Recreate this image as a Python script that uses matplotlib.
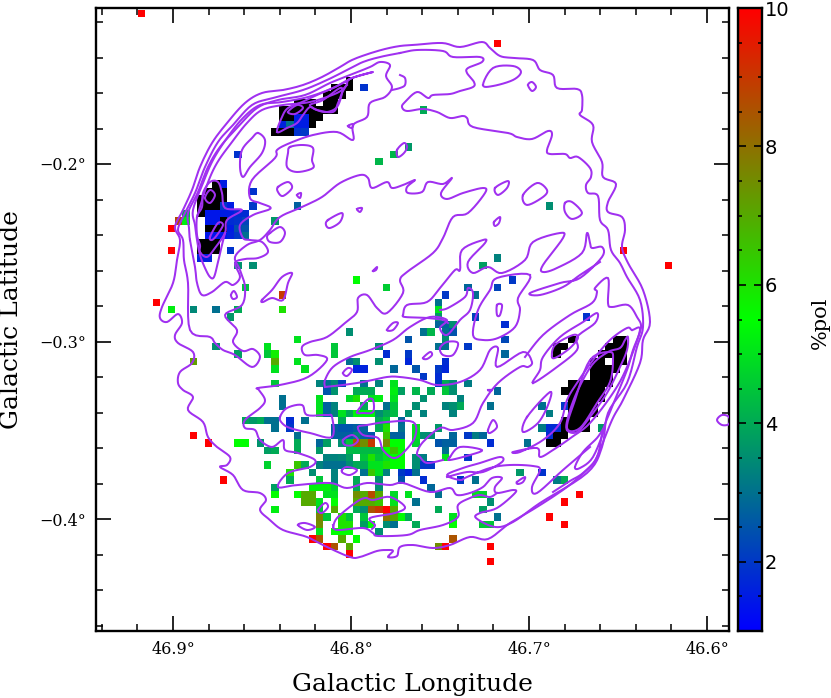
import numpy as np
import matplotlib
matplotlib.use("Agg")
import matplotlib.pyplot as plt
from matplotlib.colors import LinearSegmentedColormap, Normalize
from matplotlib.ticker import FuncFormatter, MultipleLocator

# ---- polarisation map cells: (column, row, %pol); pol below 1 is drawn black
nw_cells = [(0,-34,.5),(0,-33,.5),(-2,-33,.5),(-1,-33,.5),(2,-33,1.9),(-3,-32,.5),(-2,-32,.5),(-1,-32,.5),
 (-7,-31,.5),(-6,-31,.5),(-5,-31,.5),(-3,-31,.5),(-2,-31,.5),
 (-9,-30,.5),(-8,-30,.5),(-7,-30,.5),(-6,-30,.5),(-5,-30,.5),(-4,-30,.5),(-3,-30,.5),(-2,-30,.5),
 (-9,-29,.5),(-8,-29,.5),(-7,-29,1.5),(-6,-29,1.5),(-5,-29,.5),(-4,-29,.5),
 (-9,-28,1.6),(-8,-28,3.0),(-7,-28,1.5),(-6,-28,1.5),(-5,-28,.5),
 (-10,-27,.5),(-9,-27,.5),(-8,-27,.5),(-7,-27,1.9),(-6,-27,2.0),
 (-15,-24,1.9),(-13,-19,1.9),(-13,-17,2.0),(-7,-17,2.7),(-10,-15,3.7),(4,-23,4.2),(6,-24,4.2),(8,-25,3.7),
 (10,-30,4.0),(-16,-11,1.9),(-15,-9,3.6),(-13,-9,3.5)]
left_blob_cells = [(-18,-20,.5),(-17,-20,1.5),(-19,-19,.5),(-18,-19,.5),(-17,-19,.5),
 (-20,-18,.5),(-19,-18,.5),(-18,-18,.5),(-17,-18,.5),(-20,-17,.5),(-19,-17,.5),(-18,-17,.5),(-17,-17,2.0),(-16,-17,1.5),
 (-20,-16,.5),(-19,-16,1.4),(-18,-16,1.4),(-17,-16,1.5),(-16,-16,1.5),(-15,-16,1.8),(-14,-16,1.8),(-22,-16,4.2),
 (-19,-15,1.4),(-18,-15,1.4),(-17,-15,.5),(-16,-15,1.8),(-15,-15,1.9),(-14,-15,2.2),(-22,-15,5.2),(-23,-15,8.7),
 (-19,-14,.5),(-18,-14,.5),(-17,-14,.5),(-16,-14,1.5),(-15,-14,2.4),(-14,-14,2.5),(-24,-14,10),
 (-19,-13,1.4),(-18,-13,1.4),(-17,-13,1.4),(-16,-13,1.6),(-15,-13,2.0),(-14,-13,3.0),
 (-20,-12,.5),(-19,-12,.5),(-18,-12,.5),(-20,-11,.5),(-19,-11,.5),(-18,-11,.5),(-24,-11,10),
 (-20,-10,1.6),(-19,-10,1.6),(-24,-3,5.2),(-21,-3,3.4),(-26,-4,10),(-18,-3,3.0),(-16,-2,3.3),(-18,2,3.5),(-15,3,3.3),
 (-21,4,7.2),(-21,14,10),(-19,15,10),(-17,20,10),(-28,-43,10)]
dense_cells_a = [(1,-7,5.5),(-14,-6,4.4),(5,-6,4.6),(16,-6,2.8),(-9,-5,9.0),(13,-5,2.0),(17,-5,3.0),(12,-4,3.0),
 (-9,-3,6.0),(-15,-3,4.0),(12,-3,5.0),(-16,-2,3.7),(12,-2,3.7),(17,-2,2.2),(12,-1,2.8),(13,-1,2.8),(14,-1,3.5),
 (0,0,3.5),(10,0,3.0),(11,0,4.2),(13,0,3.0),(14,0,2.5),(-7,1,5.0),(8,1,2.5),(13,1,3.5),
 (-11,2,5.0),(-2,2,4.5),(4,2,3.5),(12,2,3.0),(13,2,3.0),(16,2,2.0),
 (-11,3,4.5),(-10,3,5.8),(-2,3,4.5),(5,3,1.8),(8,3,2.0),(-15,3,3.8),
 (-10,4,7.0),(-7,4,5.0),(0,4,3.0),(1,4,3.5),(4,4,3.5),(8,4,1.7),(13,4,1.8),
 (-10,5,5.0),(-6,5,5.0),(1,5,1.6),(2,5,1.6),(6,5,2.8),(9,5,2.5),(12,5,2.0),(13,5,1.7),(10,6,2.0),(12,6,1.8),
 (-10,7,4.5),(-4,7,3.3),(-3,7,3.0),(-2,7,3.4),(-1,7,2.2),(2,7,3.0),(4,7,3.3),(6,7,5.0),(12,7,2.0),(13,7,4.0),(14,7,3.5),(16,7,3.2),
 (-3,8,2.5),(-2,8,3.6),(1,8,4.0),(2,8,4.0),(3,8,4.0),(6,8,5.2),(7,8,3.8),(9,8,4.2),(11,8,4.0),(13,8,4.5),(14,8,3.5),
 (-9,9,3.0),(-4,9,5.0),(0,9,4.8),(1,9,6.0),(3,9,5.0),(4,9,5.2),(6,9,5.0),(10,9,3.5),(15,9,3.3),
 (-9,10,3.0),(-4,10,5.0),(-3,10,2.7),(-2,10,3.3),(2,10,4.0),(5,10,3.0),(6,10,4.5),(9,10,3.5),(13,10,3.3),(14,10,3.5),(15,10,4.0),
 (-4,11,5.0),(-3,11,2.8),(-2,11,3.3),(-1,11,5.0),(0,11,4.0),(1,11,5.3),(2,11,5.3),(3,11,5.3),(4,11,3.5),(5,11,4.0),(6,11,4.3),(8,11,3.6),(10,11,3.3),(14,11,3.3),
 (-14,12,4.0),(-13,12,3.7),(-12,12,4.0),(-11,12,3.0),(-10,12,3.0),(-8,12,1.8),(-6,12,3.0),(-1,12,4.0),(4,12,4.0),(5,12,4.5),(7,12,2.8),
 (-10,13,3.0),(-8,13,2.0),(-2,13,2.7),(-1,13,2.5),(0,13,2.5),(1,13,2.7),(2,13,2.8),(4,13,4.0),(5,13,6.0),(7,13,3.0),(9,13,5.0),(12,13,3.7)]
dense_cells_b = [(-7,14,3.0),(-2,14,2.7),(-1,14,2.7),(0,14,2.7),(1,14,3.3),(2,14,2.7),(3,14,2.5),(5,14,6.5),(6,14,2.7),(7,14,2.7),(9,14,5.0),(10,14,3.5),(11,14,3.5),(14,14,2.8),(16,14,2.0),(17,14,3.2),(18,14,3.0),
 (-15,15,5.5),(-14,15,5.5),(-12,15,3.6),(-7,15,4.0),(-4,15,2.8),(-3,15,3.8),(-1,15,3.5),(0,15,4.5),(1,15,8.5),(2,15,7.5),(3,15,9.0),(5,15,7.5),(6,15,5.5),(7,15,5.5),(9,15,4.7),(12,15,2.5),(13,15,2.7),(14,15,2.7),(19,15,1.8),
 (-11,16,3.8),(-10,16,4.0),(-7,16,4.0),(-4,16,3.7),(0,16,4.3),(1,16,4.3),(2,16,4.3),(3,16,4.3),(4,16,4.3),(5,16,5.5),(6,16,6.5),(7,16,5.5),(13,16,3.0),
 (-3,17,3.3),(-2,17,3.3),(-1,17,3.4),(0,17,3.8),(2,17,4.5),(3,17,6.0),(4,17,4.5),(5,17,5.0),(6,17,5.5),(7,17,5.5),(9,17,3.5),(10,17,3.2),(13,17,5.0),(16,17,2.0),
 (-11,18,4.7),(-7,18,6.5),(-6,18,4.0),(-4,18,3.3),(-3,18,3.0),(-2,18,3.0),(-1,18,3.0),(0,18,3.5),(1,18,4.0),(2,18,4.0),(3,18,5.0),(4,18,5.0),(5,18,6.0),(6,18,5.5),(7,18,5.5),(9,18,3.5),(10,18,2.0),(11,18,2.0),
 (-8,19,6.0),(-5,19,3.5),(-2,19,3.3),(2,19,3.0),(3,19,6.5),(4,19,5.0),(5,19,3.3),(7,19,2.0),(8,19,1.7),(9,19,3.0),
 (-8,20,4.0),(-4,20,4.5),(-2,20,3.3),(1,20,4.0),(4,20,3.5),(7,20,2.5),(10,20,1.8),(15,20,2.0),(17,20,3.0),
 (-10,21,3.8),(-5,21,5.3),(-4,21,5.3),(-3,21,5.3),(-2,21,4.7),(1,21,4.0),(4,21,3.5),(11,21,2.8),
 (-10,22,5.5),(-7,22,5.5),(-6,22,7.0),(-5,22,7.0),(-3,22,5.0),(-2,22,5.0),(1,22,7.5),(2,22,7.0),(3,22,8.7),(4,22,7.0),(6,22,4.8),(8,22,5.0),(12,22,3.0),(17,22,5.0),(18,22,4.7),
 (-6,23,7.0),(-5,23,7.0),(-4,23,5.0),(-2,23,5.5),(1,23,7.0),(2,23,7.0),(3,23,7.0),(4,23,6.5),(6,23,5.0),(9,23,3.0),(19,23,3.5),
 (-10,24,5.2),(-4,24,4.5),(-2,24,7.0),(1,24,4.0),(2,24,3.5),(3,24,8.5),(4,24,9.0),(5,24,10),(6,24,7.0),(12,24,4.0),(18,24,3.8),
 (-4,25,7.7),(-3,25,4.5),(-1,25,6.0),(0,25,4.5),(2,25,4.5),(5,25,8.0),(6,25,7.0),(7,25,5.5),(8,25,4.0),(14,25,5.0),(20,25,3.0),
 (-4,26,7.5),(-1,26,6.0),(0,26,6.0),(2,26,3.8),(3,26,5.5),(5,26,3.5),(6,26,3.0),(9,26,4.0),(14,26,5.5),(18,26,4.5),(19,26,4.5),
 (-4,27,5.0),(-2,27,5.5),(-1,27,5.5),(0,27,5.5),(4,27,3.5),
 (-5,28,10),(-4,28,8.5),(-1,28,7.0),(1,28,5.5),(14,28,8.5),(-3,29,10),(-2,29,8.5),(0,29,7.0),(12,29,7.5),(13,29,10),(19,29,10),(0,30,10),(19,31,10)]
east_cells = [(20,-39,10),(43,-9,10),(37,-11,10),(27,-17,3.5),(18,-9,3.8),(20,-10,3.3),(22,-7,2.0),(20,-6,2.2),(21,-1,1.8),(21,1,2.3),(21,3,2.8),(32,-2,1.9),
 (20,8,2.8),(19,10,3.0),(26,10,3.0),(27,11,3.2),(29,10,2.0),(18,14,2.8),(24,15,3.0),(26,13,3.2),(27,13,1.8),(28,13,1.8),(27,14,1.8),(34,13,3.7),(23,19,3.7),(26,19,1.9),(28,20,3.2),(29,20,4.0),
 (36,1,.5),(37,1,.5),(35,2,.5),(36,2,.5),(37,2,.5),(34,3,.5),(35,3,.5),(36,3,.5),(37,3,.5),(33,4,.5),(34,4,.5),(36,4,.5),(37,4,.5),(33,5,.5),(34,5,.5),(35,5,.5),(36,5,.5),
 (33,6,.5),(34,6,.5),(35,6,.5),(30,7,.5),(31,7,.5),(32,7,.5),(33,7,.5),(34,7,.5),(35,7,.5),(29,8,.5),(30,8,.5),(31,8,.5),(32,8,.5),(33,8,.5),(34,8,.5),(30,9,.5),(31,9,.5),(32,9,.5),(33,9,.5),(34,9,.5),
 (30,10,.5),(31,10,.5),(32,10,.5),(33,10,.5),(30,11,.5),(31,11,.5),(32,11,.5),(33,11,.5),(29,12,.5),(30,12,.5),(31,12,.5),(32,12,.5),(29,13,.5),(30,13,.5),(31,13,.5),(32,13,.5),
 (28,14,.5),(29,14,.5),(27,15,.5),(28,15,.5),(30,1,.5),(28,2,.5),(29,2,.5),(28,3,.5),(29,23,10),(31,22,10),(27,25,10),(29,26,10)]

# ---- contour vertices, in map-plane units (see to_lon / to_lat)
outer_x = [175,183,192,200,212,227,245,262,283,303,322,340,352,368,385,400,413,442,460,482,490,500,513,533,540,553,557,577,582,582,580,593,592,602,603,616,608,608,622,625,622,628,643,650,643,640,623,612,597,590,567,537,510,488,470,450,433,413,400,397,388,393,388,377,360,350,327,307,283,270,260,266,260,243,233,220,227,230,217,208,203,188,193,183,178,180,192,193,178,175,182,178,167,160,162,173,177,180]
outer_y = [227,210,190,167,143,123,103,93,90,85,77,67,60,54,49,46,45,43,47,42,48,56,58,60,70,75,88,89,95,110,115,125,142,162,177,184,202,212,217,230,247,263,290,322,340,363,400,420,457,467,487,507,523,539,537,545,548,545,547,556,557,551,550,551,557,557,547,537,530,520,510,500,493,490,475,467,465,457,447,437,422,410,397,390,383,372,363,352,343,335,323,314,322,318,307,283,260,240]
ridge_x = [400,417,443,453,480,482,468,467,474,473,460,450,433,428,417,405,402,407,423,437,450,462,467,473,508,517,532,548,552,547,550,565,570,578,590,591,586,588,598,600,608,611,620,627,640,643,637,627,608,602,587,540,513,495,476,480,497,515,513,497,495,502,492,483,470,457,450,430,403,390,367,347,330,297,278,288,310,315,298,285,283,272,260,255,245,245,260,265,259,258,280,308,327,318,305,302,310,327,345,357,358,367,377,387,403,400,407,433,443,453,468,485,483,463,447,441,452,443,428,422,408,407,415,403,392,387,372,368,360,340,322,302,280,270,260,247,235,240,245,242,225,237,233,243,253,260,252,235,223,215,210,190,188,184,183,178,183,195,205,218,233,252,273,303,327,347,363,380]
ridge_y = [53,50,51,57,57,62,68,73,82,87,91,94,95,98,92,102,107,111,109,112,118,116,118,127,133,137,139,131,135,150,154,154,158,157,168,177,185,193,196,220,230,250,263,277,300,327,347,383,413,447,473,503,522,527,518,513,508,493,490,493,487,478,478,487,493,495,488,492,483,485,483,488,483,485,487,473,467,460,453,450,440,447,440,430,428,420,408,400,390,388,385,377,360,355,355,347,342,337,323,312,298,295,308,313,293,280,272,253,238,217,213,193,188,193,199,193,178,184,182,192,193,187,180,185,188,182,188,178,175,183,197,207,217,230,240,245,257,270,287,305,315,330,342,351,349,357,367,355,350,343,337,330,283,260,240,230,217,193,167,142,125,105,98,90,80,70,62,57]
rim3_x = [190,195,197,202,212,225,233,240,235,245,258,268,262,250,243,240,253,268,270,260,250,252,275,277,290,313,337,353,353,367,370,385,392,386,390,380,370,350,330,305,278,257,237,220,208,198,188,189]
rim3_y = [240,267,283,295,292,282,285,277,263,259,258,252,242,240,238,225,215,210,207,203,198,180,158,150,143,135,132,140,125,117,103,97,87,76,65,62,67,75,83,95,100,108,128,147,167,192,213,228]
rim4_x = [347,352,373,352,333,308,282,260,243,227,213,203,193,195,197,200,205,210,214,218,222,225]
rim4_y = [82,78,72,78,88,97,102,105,118,138,160,183,210,225,240,255,268,277,277,262,245,233]
rim5_x = [347,337,310,283,262,247,232,217,207,197]
rim5_y = [85,93,102,105,110,123,142,163,185,217]
left_blob_x = [200,207,215,225,227,242,225,222,218,210,203,202,197,197,200]
left_blob_y = [252,257,248,233,220,210,208,193,182,182,193,207,217,235,245]
top_blob_x = [277,282,288,302,317,333,347,342,338,333,317,310,303,297,287]
top_blob_y = [132,117,108,102,95,88,82,93,103,112,110,107,115,123,128]
se_rim_x = [525,543,570,592,597,595,608,608,612,628,637,641,633,627,612,603,597,583,570,553]
se_rim_y = [357,335,315,303,292,288,278,303,307,305,317,328,350,370,407,430,457,473,481,492]
centre_x = [325,325,333,350,370,393,410,430,447,440,447,460,470,473,468,465,448,440]
centre_y = [387,380,367,357,350,340,327,317,320,328,335,320,310,293,288,297,308,310]
centre2_x = [325,343,363,387,400,420,437,460,480,490,498,497,523,532,528,520,498,483,473,453,440,423,417,420,427,443]
centre2_y = [387,385,382,377,377,380,385,382,370,350,348,367,352,362,367,367,383,403,423,430,428,442,453,457,463,460]
w_x = [403,407,427,440,455,460,462,483,485,468,473,488,502,525,533,560,563,543,543,557,582,587,590,592,602,602,580,560,530,540,563,580,600]
w_y = [315,305,302,288,270,270,250,240,243,262,273,267,273,260,242,233,238,265,272,268,253,233,243,248,247,257,278,283,293,295,287,275,262]
w2_x = [403,405,427,443,448]
w2_y = [315,317,318,320,323]
south_x = [590,563,537,532,540,533,510,490,467,460,447,463,480,500,502,483,467,447]
south_y = [447,470,493,487,470,466,465,468,477,480,475,468,463,457,462,472,472,477]
arc_j_x = [333,337,355,365,373,390,405,395,370,375,372]
arc_j_y = [528,518,503,498,500,497,507,513,518,525,529]
arc_k_x = [333,337,363,373,378,407,420,443,458,458,470,480,490,497]
arc_k_y = [525,530,528,533,536,535,530,525,517,505,498,495,497,493]
arc_n_x = [400,405,405,400,392]
arc_n_y = [75,78,85,88,90]
se_q1_x = [632,627,610,593,577,567,560,543,520,513,537,540,553,572,590,613,627,640]
se_q1_y = [330,328,340,360,383,400,423,440,452,452,448,457,450,437,423,393,367,330]
se_q2_x = [567,568,577,592,608,620,625,628,627,620,607,590,577]
se_q2_y = [430,417,392,365,352,348,340,337,350,367,393,417,432]
se_q3_x = [567,575,590,610,613,610,597,580]
se_q3_y = [428,400,360,352,360,382,403,428]
se_p_x = [533,540,543,560,583,597,595,577,577,557]
se_p_y = [383,370,357,337,322,313,323,337,350,367]
closed_loops = [
 ([288,297,303,295],[112,105,108,114]),([310,323,340,342,337,327,317],[105,100,88,93,107,112,110]),
 ([348,353,352],[126,124,128]),([258,265,262,250,243,240,242,252],[133,140,153,167,177,167,150,138]),
 ([290,303,313,312,313,297,287,288],[147,145,148,160,168,172,167,153]),([278,288,292,283,278],[187,182,188,196,192]),
 ([297,301,300],[195,193,198]),([357,362,360],[209,208,212]),([328,342,340,330,326],[220,213,222,228,225]),
 ([270,280,285,280,270,267],[233,227,233,242,242,237]),([397,404,407,404,398],[150,143,147,153,157]),
 ([483,493,513,521,513,493],[85,68,66,72,80,86]),([528,532,536,532],[85,82,87,91]),
 ([495,508,507,498],[188,181,188,195]),([523,537,547,543,527],[195,183,190,197,205]),
 ([565,572,582,572,565],[203,202,213,219,212]),([494,500,499,495],[222,217,223,226]),
 ([530,497,490,478,473,483,498,515,520,518],[275,278,290,310,335,340,338,327,310,298]),
 ([497,502,500,497],[305,305,315,315]),([552,555,573,578,570,557],[357,345,335,338,348,357]),
 ([527,550,548,538,523],[417,392,405,423,432]),([575,583,597,605,593,580],[467,452,438,427,457,468]),
 ([488,493,497,490],[430,420,427,433]),([387,393,398,393],[330,323,323,330]),([343,348,352,347],[373,368,370,376]),
 ([423,430,432,427],[358,352,355,359]),([440,447,458,453,443],[348,342,343,355,355]),
 ([358,367,387,413,415,403,393,383,378,363],[427,425,422,422,437,453,458,450,438,435]),
 ([343,352,358,353,345],[440,435,440,445,445]),([280,287,302,307,327,332,332,310,290,282],[417,408,405,415,415,417,437,433,428,423]),
 ([357,367,373,373,363],[412,400,400,412,413]),([342,347,357,350,343],[470,467,470,475,473]),
 ([450,460,482,470,450],[457,447,450,455,460]),([517,525,523,518],[482,477,482,484]),
 ([298,305,315,307],[525,523,527,530]),([318,325,328,322],[510,503,507,513]),
 ([231,234,237,233],[295,291,297,299]),([262,272,282,292,288,283,272,263],[300,290,277,273,283,300,298,302]),
 ([205,210,215,210],[198,190,195,203]),([210,218,223,217,212],[237,223,225,235,240]),
 ([729,722,717,722,729],[417,415,420,425,424]),([373,377,376],[271,267,270]),([488,492,490],[390,390,391]),
]
open_lines = [(se_rim_x,se_rim_y),(centre_x,centre_y),(centre2_x,centre2_y),(w_x,w_y),(w2_x,w2_y),(south_x,south_y),
 (arc_j_x,arc_j_y),(arc_k_x,arc_k_y),(arc_n_x,arc_n_y),(rim4_x,rim4_y),(rim5_x,rim5_y)]
closed_lines = [(outer_x,outer_y),(ridge_x,ridge_y),(rim3_x,rim3_y),(left_blob_x,left_blob_y),(top_blob_x,top_blob_y),
 (se_q1_x,se_q1_y),(se_q2_x,se_q2_y),(se_q3_x,se_q3_y),(se_p_x,se_p_y)] + closed_loops

lon_ticks = [46.9, 46.8, 46.7, 46.6]
lat_ticks = [-0.2, -0.3, -0.4]
cbar_ticks = [2, 4, 6, 8, 10]

# ---- map projection of the image plane
def to_lon(x): return 46.8 - (np.asarray(x, float) - 351) / 1780
def to_lat(y): return -0.3 - (np.asarray(y, float) - 341.5) / 1775
CELL = 15 / 3600
LON0, LAT0 = 46.80073, -0.29482

def smooth(x, y, closed, n=6):
    p = np.column_stack([x, y]).astype(float)
    if closed:
        p = np.vstack([p[-1], p, p[0], p[1]])
    else:
        p = np.vstack([p[0], p, p[-1]])
    t = np.linspace(0, 1, n, endpoint=False)[:, None]
    out = []
    for i in range(1, len(p) - 2):
        a, b, c, d = p[i-1], p[i], p[i+1], p[i+2]
        out.append(0.5*((2*b) + (-a+c)*t + (2*a-5*b+4*c-d)*t**2 + (-a+3*b-3*c+d)*t**3))
    out.append(p[-2][None])
    return np.vstack(out).T

W, H = 831, 698
fig = plt.figure(figsize=(W/100, H/100), dpi=100)
plt.rcParams['font.family'] = 'DejaVu Serif'
ax = fig.add_axes([96/W, 1-631/H, 633/W, 623/H])
ax.set_xlim(to_lon(96), to_lon(729))
ax.set_ylim(to_lat(631), to_lat(8))

cmap = LinearSegmentedColormap.from_list('pol', ['#0000ff', '#00ff00', '#ff0000'], N=256)
cmap.set_under('black')
cmap.set_bad((1, 1, 1, 0))
norm = Normalize(1, 10)

cells = nw_cells + left_blob_cells + dense_cells_a + dense_cells_b + east_cells
cols = np.array([c[0] for c in cells]); rows = np.array([c[1] for c in cells]); pols = np.array([c[2] for c in cells], float)
c0, c1, r0, r1 = cols.min(), cols.max(), rows.min(), rows.max()
grid = np.full((r1-r0+1, c1-c0+1), np.nan)
grid[rows-r0, cols-c0] = pols
lon_e = LON0 - (np.arange(c0, c1+2) - 0.5) * CELL
lat_e = LAT0 - (np.arange(r0, r1+2) - 0.5) * CELL
ax.imshow(np.ma.masked_invalid(grid), cmap=cmap, norm=norm, origin='upper',
          extent=[lon_e[0], lon_e[-1], lat_e[-1], lat_e[0]], aspect='auto', interpolation='nearest', zorder=1)
ax.set_xlim(to_lon(96), to_lon(729))
ax.set_ylim(to_lat(631), to_lat(8))

PURPLE = '#a030f0'
for x, y in closed_lines:
    sx, sy = smooth(x, y, True)
    ax.plot(to_lon(sx), to_lat(sy), color=PURPLE, lw=1.45, zorder=3, solid_joinstyle='round')
for x, y in open_lines:
    sx, sy = smooth(x, y, False)
    ax.plot(to_lon(sx), to_lat(sy), color=PURPLE, lw=1.45, zorder=3, solid_joinstyle='round')

ax.xaxis.set_major_locator(plt.FixedLocator(lon_ticks))
ax.yaxis.set_major_locator(plt.FixedLocator(lat_ticks))
ax.xaxis.set_minor_locator(MultipleLocator(0.02))
ax.yaxis.set_minor_locator(MultipleLocator(0.02))
ax.xaxis.set_major_formatter(FuncFormatter(lambda v, p: f"{v:.1f}°"))
ax.yaxis.set_major_formatter(FuncFormatter(lambda v, p: f"\u2212{abs(v):.1f}°"))
ax.tick_params(which='major', direction='in', length=10.5, width=1.2, top=True, right=True, labelsize=11.5, pad=7)
ax.tick_params(which='minor', direction='in', length=5, width=1.1, top=True, right=True)
for s in ax.spines.values():
    s.set_linewidth(1.7)
ax.set_xlabel('Galactic Longitude', fontsize=18)
ax.xaxis.set_label_coords((412-96)/633, -(684-631)/623, transform=ax.transAxes)
ax.xaxis.label.set_va('center')
ax.set_ylabel('Galactic Latitude', fontsize=18)
ax.yaxis.set_label_coords((11-96)/633, (631-320)/623, transform=ax.transAxes)
ax.yaxis.label.set_va('center')

cax = fig.add_axes([738/W, 1-631/H, 24/W, 623/H])
levels = np.linspace(1, 10, 256)[:, None]
cax.imshow(levels, origin='lower', aspect='auto', cmap=cmap, norm=norm, extent=[0, 1, 1, 10])
cax.set_xticks([])
cax.set_xlim(0, 1); cax.set_ylim(1, 10)
cax.yaxis.set_major_locator(plt.FixedLocator(cbar_ticks))
cax.yaxis.set_minor_locator(MultipleLocator(0.5))
cax.yaxis.tick_right()
cax.tick_params(which='major', axis='y', direction='in', length=5.5, width=1.2, left=True, right=True, labelsize=14, pad=2)
cax.tick_params(which='minor', axis='y', direction='in', length=3, width=1.1, left=True, right=True)
for lab in cax.get_yticklabels():
    lab.set_family('DejaVu Sans')
for s in cax.spines.values():
    s.set_linewidth(1.7)
fig.text(820/W, 1-323/H, '%pol', rotation=90, ha='center', va='center', fontsize=15, family='DejaVu Serif')

fig.savefig('out.png', dpi=100)
